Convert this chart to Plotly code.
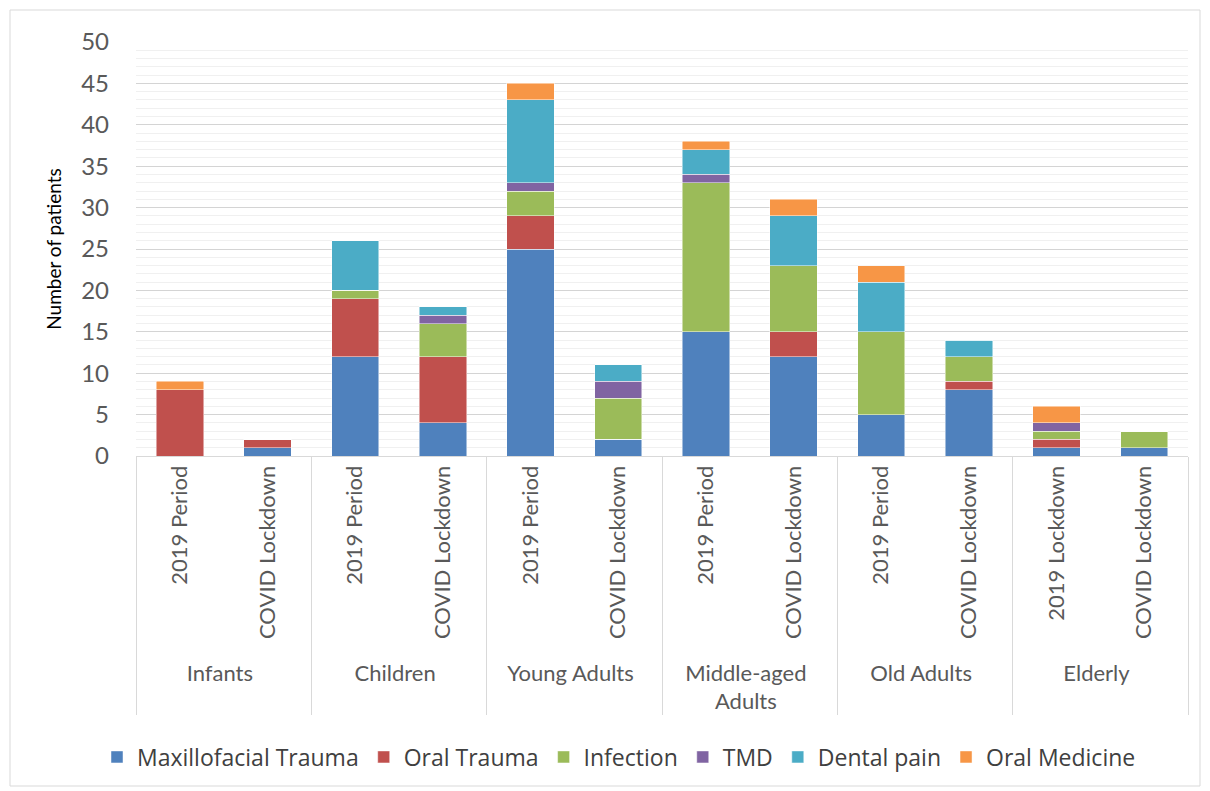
import plotly.graph_objects as go

groups = ["Infants", "Infants", "Children", "Children", "Young Adults", "Young Adults",
          "Middle-aged<br>Adults", "Middle-aged<br>Adults", "Old Adults", "Old Adults",
          "Elderly", "Elderly"]
# zero-width space on the last label keeps plotly's multicategory ordering as in the source
periods = ["2019 Period", "COVID Lockdown", "2019 Period", "COVID Lockdown",
           "2019 Period", "COVID Lockdown", "2019 Period", "COVID Lockdown",
           "2019 Period", "COVID Lockdown", "2019 Lockdown", "\u200bCOVID Lockdown"]

maxillofacial_trauma = [0, 1, 12, 4, 25, 2, 15, 12, 5, 8, 1, 1]
oral_trauma          = [8, 1, 7, 8, 4, 0, 0, 3, 0, 1, 1, 0]
infection            = [0, 0, 1, 4, 3, 5, 18, 8, 10, 3, 1, 2]
tmd                  = [0, 0, 0, 1, 1, 2, 1, 0, 0, 0, 1, 0]
dental_pain          = [0, 0, 6, 1, 10, 2, 3, 6, 6, 2, 0, 0]
oral_medicine        = [1, 0, 0, 0, 2, 0, 1, 2, 2, 0, 2, 0]

series = [
    ("Maxillofacial Trauma", maxillofacial_trauma, "#4F81BD"),
    ("Oral Trauma", oral_trauma, "#C0504D"),
    ("Infection", infection, "#9BBB59"),
    ("TMD", tmd, "#8064A2"),
    ("Dental pain", dental_pain, "#4BACC6"),
    ("Oral Medicine", oral_medicine, "#F79646"),
]

FONT = "Lato"
fig = go.Figure()
for name, vals, col in series:
    fig.add_trace(go.Bar(
        x=[groups, periods], y=vals, name=name,
        marker=dict(color=col, line=dict(color="rgba(255,255,255,0.6)", width=0.8)),
    ))

L, R, T, B = 136, 1188, 42, 456
W, H = 1210, 791
pw, ph = R - L, B - T

def px(x):
    return (x - L) / pw

def py(y):
    return (B - y) / ph

fig.update_layout(
    width=W, height=H,
    barmode="stack", bargap=0.46,
    margin=dict(l=L, r=W - R, t=T, b=H - B, autoexpand=False),
    plot_bgcolor="white", paper_bgcolor="white",
    font=dict(family=FONT, color="#595959"),
    legend=dict(orientation="h", x=px(619), xanchor="center", y=py(757), yanchor="middle",
                font=dict(family="Open Sans", size=23, color="#404040"), traceorder="normal"),
    xaxis=dict(
        type="multicategory",
        tickangle=-90,
        tickfont=dict(size=22, color="#595959"),
        showline=True, linecolor="#d9d9d9", linewidth=1,
        showdividers=True, dividercolor="#d9d9d9", dividerwidth=1,
        ticks="",
    ),
    yaxis=dict(
        range=[0, 50], dtick=5,
        showgrid=True, gridcolor="#d4d4d4", gridwidth=1,
        minor=dict(dtick=1, showgrid=True, gridcolor="#f0f0f0", gridwidth=1),
        tickfont=dict(size=24, color="#595959"),
        ticklabelstandoff=26,
        zeroline=False,
        title=dict(text="Number of patients", font=dict(size=19, color="#000000"), standoff=14),
    ),
    shapes=[dict(type="rect", xref="paper", yref="paper",
                 x0=px(10), x1=px(1200), y0=py(786), y1=py(10),
                 line=dict(color="#d9d9d9", width=1), fillcolor="rgba(0,0,0,0)", layer="below")],
)

fig.write_html("out.html", config={"displayModeBar": False},
               post_script="document.body.style.margin='0px';")
